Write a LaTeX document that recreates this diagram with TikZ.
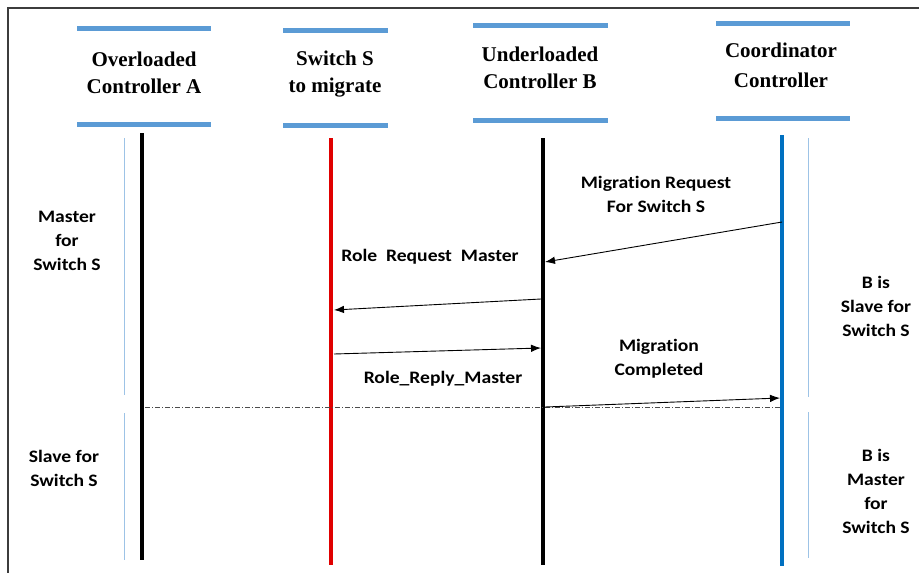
\documentclass[tikz,border=0pt]{standalone}
\usepackage{fontspec}
\setmainfont{Liberation Serif}
\newfontfamily\lblfont[RawFeature=-liga, FakeStretch=1.12]{Carlito}
\usetikzlibrary{arrows.meta}
\definecolor{barblue}{RGB}{91,155,213}
\definecolor{lifeblue}{RGB}{0,112,192}
\definecolor{phaseblue}{RGB}{157,195,230}
\definecolor{lifered}{RGB}{224,0,0}
\definecolor{framegray}{RGB}{60,60,60}
\tikzset{
  hdrbar/.style={draw=barblue, line width=5pt},
  hdr/.style={font=\fontsize{21}{27}\selectfont\bfseries, align=center, inner sep=0pt},
  lbl/.style={font=\lblfont\fontsize{17.5}{24}\selectfont\bfseries, align=center, inner sep=0pt},
  life/.style={line width=4pt},
  phase/.style={draw=phaseblue, line width=1pt},
  msg/.style={draw=black, line width=0.9pt, -{Latex[length=10pt,width=7.5pt]}},
}
\begin{document}
\begin{tikzpicture}[x=1pt,y=-1pt]
\useasboundingbox (0,0) rectangle (919,573);
\fill[white] (0,0) rectangle (919,573);
% outer frame (top and left edges)
\draw[framegray, line width=1.4pt] (8,573) -- (8,8) -- (919,8);

% participant headers
\draw[hdrbar] (77,28) -- (211,28);  \draw[hdrbar] (77,124) -- (211,124);
\draw[hdrbar] (283,30) -- (388,30); \draw[hdrbar] (283,125) -- (388,125);
\draw[hdrbar] (473,25) -- (608,25); \draw[hdrbar] (473,120) -- (608,120);
\draw[hdrbar] (716,23) -- (850,23); \draw[hdrbar] (716,118) -- (850,118);
\node[hdr] (hA) at (144,73) {Overloaded\\Controller A};
\node[hdr] (hS) at (335,74) {Switch S\\to migrate};
\node[hdr] (hB) at (540,68) {Underloaded\\Controller B};
\node[hdr] (hC) at (781,65) {Coordinator\\[3pt]Controller};

% lifelines
\coordinate (A0) at (142,133); \coordinate (A1) at (142,560);
\coordinate (S0) at (331,138); \coordinate (S1) at (331,565);
\coordinate (B0) at (543,138); \coordinate (B1) at (543,565);
\coordinate (C0) at (782,135); \coordinate (C1) at (782,566);
\draw[life, black] (A0) -- (A1);
\draw[life, lifered] (S0) -- (S1);
\draw[life, black] (B0) -- (B1);
\draw[life, lifeblue] (C0) -- (C1);

% phase markers beside A and the coordinator
\draw[phase] (124,138) -- (124,395);
\draw[phase] (124,413) -- (124,560);
\draw[phase] (808,138) -- (808,397);
\draw[phase] (808,412) -- (808,558);

% phase boundary
\coordinate (dl) at (145,407); \coordinate (dr) at (780,407);
\draw[black!70, line width=0.7pt, dash pattern=on 5pt off 2pt on 1pt off 2pt] (dl) -- (dr);

% messages
\coordinate (m1s) at (782,222); \coordinate (m1e) at (545,262);
\coordinate (m2s) at (541,299); \coordinate (m2e) at (334,310);
\coordinate (m3s) at (334,354); \coordinate (m3e) at (541,348);
\coordinate (m4s) at (545,407); \coordinate (m4e) at (780,398);
\draw[msg] (m1s) -- (m1e);
\draw[msg] (m2s) -- (m2e);
\draw[msg] (m3s) -- (m3e);
\draw[msg] (m4s) -- (m4e);

% message labels
\node[lbl] (l1) at (656,194) {Migration Request\\For Switch S};
\node[lbl] (l2) at (430,257) {Role\ \ Request\ \ Master};
\node[lbl] (l3) at (443,379) {Role\_Reply\_Master};
\node[lbl] (l4) at (659,359) {Migration\\Completed};

% role annotations
\node[lbl] (r1) at (67,241) {Master\\for\\Switch S};
\node[lbl] (r2) at (64,468) {Slave for\\Switch S};
\node[lbl] (r3) at (876,306) {B is\\Slave for\\Switch S};
\node[lbl] (r4) at (876,491) {B is\\Master\\for\\Switch S};
\end{tikzpicture}
\end{document}
